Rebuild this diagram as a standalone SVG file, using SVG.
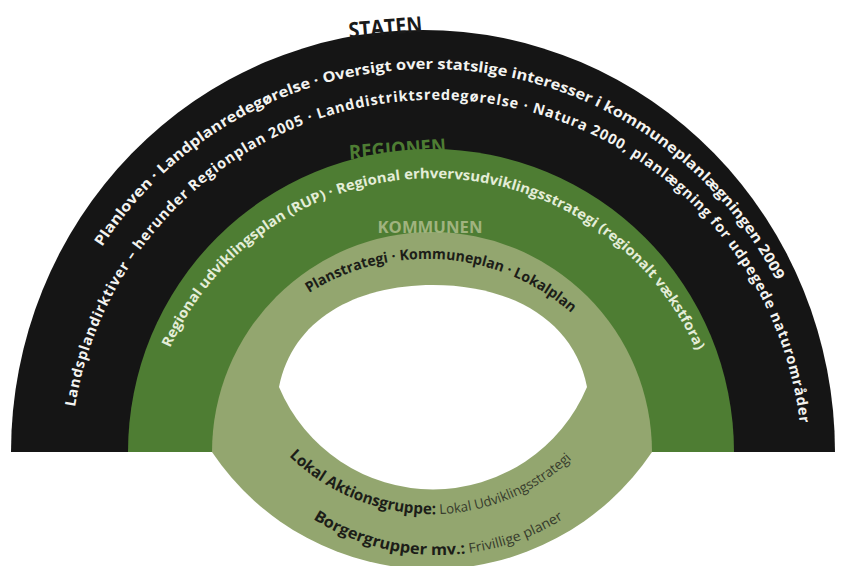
<svg xmlns="http://www.w3.org/2000/svg" xmlns:xlink="http://www.w3.org/1999/xlink" width="845" height="566" viewBox="0 0 845 566">
  <style>
    .t { font-family: "Open Sans", "Liberation Sans", sans-serif; font-weight: 700; }
    .w { fill: #f3f3f0; font-size: 14.5px; }
    .g { fill: #e4edd8; font-size: 14px; }
    .k { fill: #1c1d18; font-size: 14.5px; }
    .b { fill: #1c1d18; font-size: 15.5px; }
    .r { fill: #363b2c; font-weight: 400; font-size: 13.5px; }
    .lab { font-family: "Open Sans", "Liberation Sans", sans-serif; font-weight: 700; text-anchor: middle; }
  </style>
  <defs>
    <path id="p1" d="M102,247 A390,390 0 0 1 777,282"/>
    <path id="p2" d="M75,407 A366,366 0 0 1 800,425"/>
    <path id="p3" d="M170,348 A288,288 0 0 1 697,352"/>
    <path id="p4" d="M309,293 A220,220 0 0 1 569,311"/>
    <path id="p5" d="M289,456 A205,205 0 0 0 573,458"/>
    <path id="p6" d="M313,519 A235,235 0 0 0 563,519"/>
  </defs>
  <rect width="845" height="566" fill="#ffffff"/>

  <g id="staten">
    <path d="M11,452 A412,422 0 0 1 835,452 Z" fill="#151515"/>
    <text class="lab" x="386" y="35" font-size="22" fill="#1a1a1a" textLength="74" lengthAdjust="spacingAndGlyphs" transform="rotate(-5 386 35)">STATEN</text>
    <text class="t w"><textPath xlink:href="#p1" href="#p1" textLength="816" lengthAdjust="spacingAndGlyphs">Planloven · Landplanredegørelse · Oversigt over statslige interesser i kommuneplanlægningen 2009</textPath></text>
    <text class="t w" font-size="14"><textPath xlink:href="#p2" href="#p2" textLength="1048" lengthAdjust="spacing">Landsplandirktiver – herunder Regionplan 2005 · Landdistriktsredegørelse · Natura 2000, planlægning for udpegede naturområder</textPath></text>
  </g>

  <g id="regionen">
    <path d="M128,452 A303,303 0 0 1 734,452 Z" fill="#4e7d33"/>
    <text class="lab" x="398" y="156" font-size="20" fill="#4e7d33" textLength="97" lengthAdjust="spacingAndGlyphs" transform="rotate(-4 398 156)">REGIONEN</text>
    <text class="t g"><textPath xlink:href="#p3" href="#p3" textLength="664" lengthAdjust="spacingAndGlyphs">Regional udviklingsplan (RUP) · Regional erhvervsudviklingsstrategi (regionalt vækstfora)</textPath></text>
  </g>

  <g id="kommunen">
    <path d="M212,452 A220,220 0 0 1 652,452 A265,265 0 0 1 212,452 Z" fill="#93a66f"/>
    <path d="M279,387 C292,320 355,285 433,285 C511,285 574,320 587,387 A167,167 0 0 1 279,387 Z" fill="#ffffff"/>
    <text class="lab" x="430" y="233" font-size="16.5" fill="#a0b37f" textLength="105" lengthAdjust="spacingAndGlyphs">KOMMUNEN</text>
    <text class="t k"><textPath xlink:href="#p4" href="#p4" textLength="282" lengthAdjust="spacingAndGlyphs">Planstrategi · Kommuneplan · Lokalplan</textPath></text>
    <text class="t b"><textPath xlink:href="#p5" href="#p5" textLength="312" lengthAdjust="spacingAndGlyphs">Lokal Aktionsgruppe:<tspan class="r"> Lokal Udviklingsstrategi</tspan></textPath></text>
    <text class="t b"><textPath xlink:href="#p6" href="#p6" textLength="264" lengthAdjust="spacingAndGlyphs">Borgergrupper mv.:<tspan class="r"> Frivillige planer</tspan></textPath></text>
  </g>
</svg>
